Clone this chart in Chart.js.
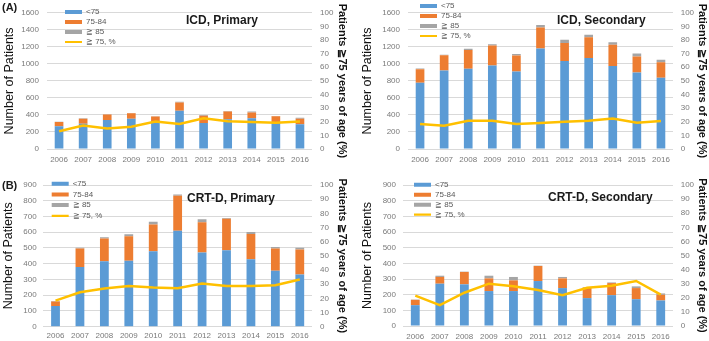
<!DOCTYPE html>
<html>
<head>
<meta charset="utf-8">
<script src="https://cdn.jsdelivr.net/npm/chart.js@4.4.1/dist/chart.umd.min.js"></script>
<style>
  html, body { margin: 0; padding: 0; background: #fff; }
  body { width: 709px; height: 341px; position: relative; overflow: hidden; font-family: 'Liberation Sans', Arial, sans-serif; }
  .panel { position: absolute; }
  .panel canvas { display: block; }
  .tag { position: absolute; font-weight: bold; font-size: 11px; line-height: 11px; color: #1a1a1a; white-space: nowrap; }
  .ttl { position: absolute; font-weight: bold; font-size: 12px; line-height: 12px; color: #1a1a1a; white-space: nowrap; }
</style>
</head>
<body>
<div class="panel" id="pA" style="left:0px;top:0px;width:355px;height:170px"><canvas id="cA" width="355" height="170"></canvas></div>
<div class="panel" id="pC" style="left:355px;top:0px;width:354px;height:170px"><canvas id="cC" width="354" height="170"></canvas></div>
<div class="panel" id="pB" style="left:0px;top:170px;width:355px;height:171px"><canvas id="cB" width="355" height="171"></canvas></div>
<div class="panel" id="pD" style="left:355px;top:170px;width:354px;height:171px"><canvas id="cD" width="354" height="171"></canvas></div>

<div class="tag" style="left:2px;top:2px">(A)</div>
<div class="tag" style="left:2px;top:180px">(B)</div>
<div class="ttl" style="left:186px;top:14px">ICD, Primary</div>
<div class="ttl" style="left:557px;top:14px">ICD, Secondary</div>
<div class="ttl" style="left:187px;top:192px">CRT-D, Primary</div>
<div class="ttl" style="left:548px;top:191px">CRT-D, Secondary</div>

<script>
// ---------- data ----------
const years = ['2006','2007','2008','2009','2010','2011','2012','2013','2014','2015','2016'];
const seriesLabels = ['<75', '75-84', '\u2267 85', '\u2267 75, %'];
const leftAxisTitle = 'Number of Patients';
const rightAxisTitle = 'Patients \u226775 years of age (%)';

// ICD, Primary
const icdPrimLt75  = [268, 297, 340, 355, 318, 449, 306, 350, 360, 309, 290];
const icdPrim7584  = [ 49,  57,  64,  64,  63,  98,  86,  91,  70,  76,  65];
const icdPrimGe85  = [  3,   6,   4,   4,   4,   8,   8,   5,  10,   3,  11];
const icdPrimPct   = [13.0, 17.3, 15.1, 16.3, 20.1, 18.4, 22.5, 20.3, 19.8, 19.3, 20.2];

// ICD, Secondary
const icdSecLt75   = [777, 921, 943, 981, 909, 1181, 1034, 1068, 974, 898, 838];
const icdSec7584   = [159, 181, 219, 234, 189,  245,  211,  245, 252, 189, 181];
const icdSecGe85   = [ 11,   6,  15,  15,  19,   31,   38,   30,  27,  34,  30];
const icdSecPct    = [18.4, 17.0, 20.8, 20.8, 18.4, 19.1, 20.0, 20.8, 22.4, 19.3, 20.5];

// CRT-D, Primary
const crtPrimLt75  = [132, 379, 415, 419, 479, 609, 472, 485, 428, 355, 332];
const crtPrim7584  = [ 28, 117, 145, 155, 170, 223, 192, 200, 161, 141, 159];
const crtPrimGe85  = [  4,   6,   8,  13,  17,   8,  19,   6,  13,  10,  11];
const crtPrimPct   = [18.4, 24.3, 27.0, 28.8, 27.7, 27.2, 30.5, 28.8, 28.8, 29.3, 33.3];

// CRT-D, Secondary
const crtSecLt75   = [133, 270, 266, 223, 223, 287, 242, 178, 197, 171, 163];
const crtSec7584   = [ 34,  43,  79,  81,  68,  96,  62,  66,  77,  71,  36];
const crtSecGe85   = [  2,   8,   2,  17,  22,   2,   9,   4,   4,  11,   9];
const crtSecPct    = [21.5, 14.8, 23.6, 30.0, 28.2, 25.6, 21.8, 27.1, 28.5, 31.9, 22.3];

const leftMaxA = 1600, leftStepA = 200;   // ICD panels
const leftMaxB = 900,  leftStepB = 100;   // CRT-D panels
const rightMax = 100,  rightStep = 10;

// ---------- styles ----------
const COLORS = ['#5b9bd5', '#ed7d31', '#a5a5a5', '#ffc000'];
const FONT = "'Liberation Sans', Arial, sans-serif";
const TICK_FONT = { family: FONT, size: 8 };
const TICK_COLOR = '#7a7a7a';

const legendPos = {
  id: 'legendPos',
  afterLayout(chart, args, opts) {
    const lg = chart.legend;
    if (!lg || opts.x === undefined) return;
    lg.left = opts.x;
    lg.top = opts.y;
  }
};

function makePanel(cfg) {
  const ctx = document.getElementById(cfg.canvas).getContext('2d');
  const a = cfg.area;
  return new Chart(ctx, {
    data: {
      labels: years,
      datasets: [
        { type: 'bar', label: seriesLabels[0], data: cfg.lt75, backgroundColor: COLORS[0], stack: 's', yAxisID: 'y', order: 1 },
        { type: 'bar', label: seriesLabels[1], data: cfg.mid, backgroundColor: COLORS[1], stack: 's', yAxisID: 'y', order: 1 },
        { type: 'bar', label: seriesLabels[2], data: cfg.old, backgroundColor: COLORS[2], stack: 's', yAxisID: 'y', order: 1 },
        { type: 'line', label: seriesLabels[3], data: cfg.pct, borderColor: COLORS[3], backgroundColor: COLORS[3],
          borderWidth: 2.5, pointRadius: 0, tension: 0, yAxisID: 'y2', order: 0 }
      ]
    },
    options: {
      responsive: false,
      animation: false,
      devicePixelRatio: 1,
      datasets: { bar: { barPercentage: 0.36, categoryPercentage: 1.0 } },
      layout: { padding: { top: a.top, left: 0, right: 0, bottom: 0 } },
      scales: {
        x: {
          stacked: true,
          grid: { display: false, drawTicks: false },
          border: { display: false },
          ticks: { color: TICK_COLOR, font: TICK_FONT, padding: cfg.xPad, autoSkip: false, maxRotation: 0, minRotation: 0 },
          afterFit(s) { s.height = cfg.h - a.bottom; }
        },
        y: {
          stacked: true,
          position: 'left',
          min: 0, max: cfg.yMax,
          grid: { color: '#d9d9d9', drawTicks: false, lineWidth: 1 },
          border: { display: false },
          ticks: { stepSize: cfg.yStep, color: TICK_COLOR, font: TICK_FONT, padding: cfg.tickPadL, format: { useGrouping: false } },
          title: { display: true, text: leftAxisTitle, color: '#111', font: { family: FONT, size: 12.5 }, padding: { top: cfg.titleL, bottom: 0 } },
          afterFit(s) { s.width = a.left; }
        },
        y2: {
          position: 'right',
          min: 0, max: rightMax,
          grid: { display: false, drawTicks: false },
          border: { display: false },
          ticks: { stepSize: rightStep, color: TICK_COLOR, font: TICK_FONT, padding: cfg.tickPadR },
          title: { display: true, text: rightAxisTitle, color: '#111', font: { family: FONT, size: 11, weight: 'bold' }, padding: { top: cfg.titleR, bottom: 0 } },
          afterFit(s) { s.width = cfg.w - a.right; }
        }
      },
      plugins: {
        tooltip: { enabled: false },
        title: { display: false },
        legendPos: { x: cfg.legend.x, y: cfg.legend.y },
        legend: {
          display: true,
          position: 'chartArea',
          align: 'start',
          labels: {
            usePointStyle: true,
            pointStyleWidth: 17,
            boxHeight: 8,
            padding: cfg.legend.p,
            color: '#595959',
            font: { family: FONT, size: 8 },
            generateLabels(chart) {
              return chart.data.datasets.map((ds, i) => ({
                text: ds.label,
                fillStyle: COLORS[i],
                strokeStyle: COLORS[i],
                lineWidth: i < 3 ? 4 : 2.2,
                lineCap: 'butt',
                pointStyle: 'line',
                hidden: false,
                datasetIndex: i,
                fontColor: '#595959'
              }));
            },
            sort: (p, q) => p.datasetIndex - q.datasetIndex
          }
        }
      }
    },
    plugins: [legendPos]
  });
}

makePanel({ canvas: 'cA', w: 355, h: 170, yMax: leftMaxA, yStep: leftStepA,
  lt75: icdPrimLt75, mid: icdPrim7584, old: icdPrimGe85, pct: icdPrimPct,
  area: { left: 47, right: 312, top: 7.3, bottom: 149 },
  tickPadL: 8, tickPadR: 8, xPad: 5.5, titleL: 2.5, titleR: 6.7,
  legend: { x: 63, y: 6, p: 2 } });

makePanel({ canvas: 'cC', w: 354, h: 170, yMax: leftMaxA, yStep: leftStepA,
  lt75: icdSecLt75, mid: icdSec7584, old: icdSecGe85, pct: icdSecPct,
  area: { left: 53, right: 318, top: 7.3, bottom: 149 },
  tickPadL: 8, tickPadR: 7.7, xPad: 5.5, titleL: 5.5, titleR: 0,
  legend: { x: 63, y: 0, p: 2 } });

makePanel({ canvas: 'cB', w: 355, h: 171, yMax: leftMaxB, yStep: leftStepB,
  lt75: crtPrimLt75, mid: crtPrim7584, old: crtPrimGe85, pct: crtPrimPct,
  area: { left: 43.3, right: 312, top: 15, bottom: 156.7 },
  tickPadL: 6.6, tickPadR: 8, xPad: 4.5, titleL: 1.5, titleR: 5.9,
  legend: { x: 49, y: 7, p: 2.7 } });

makePanel({ canvas: 'cD', w: 354, h: 171, yMax: leftMaxB, yStep: leftStepB,
  lt75: crtSecLt75, mid: crtSec7584, old: crtSecGe85, pct: crtSecPct,
  area: { left: 48, right: 318, top: 15, bottom: 156 },
  tickPadL: 7, tickPadR: 7.7, xPad: 5.9, titleL: 5.5, titleR: 0,
  legend: { x: 57, y: 8.7, p: 2 } });
</script>
</body>
</html>
